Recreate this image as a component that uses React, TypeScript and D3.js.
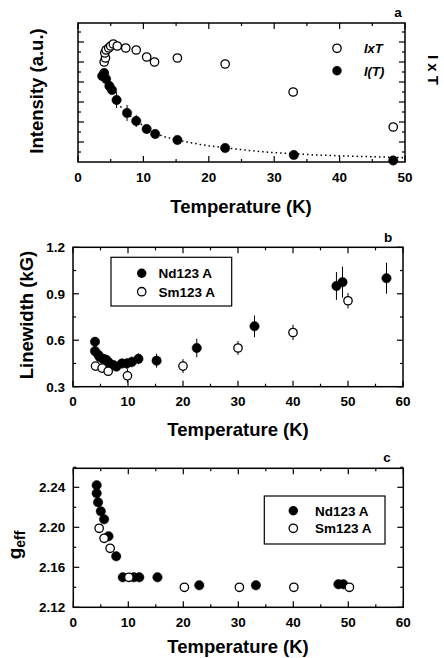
import { useEffect, useRef } from "react";
import * as d3 from "d3";

// ---- panel a: ESR intensity vs temperature ----
const aFilledT = [3.7, 4.0, 4.3, 4.8, 5.2, 5.9, 7.5, 8.9, 10.5, 11.8, 15.2, 22.5, 33.0, 48.2];
const aFilledI = [8.6, 8.9, 8.3, 7.6, 7.2, 6.2, 4.9, 4.1, 3.3, 2.8, 2.2, 1.4, 0.7, 0.15];
const aFilledErr = [0, 0, 0, 0, 0.3, 0.8, 0.8, 0.6, 0.4, 0.4, 0, 0, 0, 0];
const aOpenT = [4.0, 4.2, 4.1, 4.3, 4.7, 5.0, 5.4, 6.0, 7.3, 8.9, 10.5, 11.7, 15.2, 22.5, 32.9, 48.2];
const aOpenI = [10.0, 10.4, 10.9, 11.2, 11.4, 11.6, 11.8, 11.6, 11.4, 11.2, 10.5, 10.0, 10.4, 9.8, 7.0, 3.5];
// dotted guide through I(T)
const aFitT = [6.0, 7.5, 9, 10.5, 12.5, 15, 18.7, 22.5, 27.8, 33, 40, 48, 50];
const aFitI = [5.9, 4.9, 4.1, 3.4, 2.7, 2.25, 1.75, 1.43, 1.05, 0.82, 0.62, 0.47, 0.43];

// ---- panel b: linewidth ----
const bNdT = [4.0, 4.0, 4.6, 4.9, 5.5, 6.0, 6.4, 7.3, 7.9, 8.9, 9.8, 10.7, 11.9, 15.2, 22.5, 33.0, 47.9, 49.0, 57.0];
const bNdW = [0.59, 0.53, 0.505, 0.49, 0.48, 0.475, 0.46, 0.44, 0.43, 0.45, 0.45, 0.46, 0.48, 0.468, 0.55, 0.69, 0.95, 0.975, 1.0];
const bNdErr = [0.03, 0.03, 0.03, 0.03, 0.03, 0.03, 0.03, 0.03, 0.03, 0.03, 0.035, 0.035, 0.035, 0.045, 0.06, 0.07, 0.09, 0.1, 0.1];
const bSmT = [4.1, 5.3, 6.4, 9.9, 20, 30, 40, 50];
const bSmW = [0.433, 0.42, 0.40, 0.37, 0.433, 0.55, 0.65, 0.855];
const bSmErr = [0.02, 0.02, 0.02, 0.045, 0.045, 0.045, 0.05, 0.05];

// ---- panel c: g factor ----
const cNdT = [4.25, 4.25, 4.5, 5.0, 5.6, 6.4, 7.8, 9.0, 11.0, 12.0, 15.3, 22.9, 33.2, 48.2, 49.1];
const cNdG = [2.242, 2.234, 2.225, 2.216, 2.208, 2.191, 2.171, 2.15, 2.15, 2.15, 2.15, 2.142, 2.142, 2.143, 2.143];
const cSmT = [4.7, 5.6, 6.7, 10.1, 20.2, 30.2, 40.1, 50.2];
const cSmG = [2.199, 2.189, 2.179, 2.15, 2.14, 2.14, 2.14, 2.14];

const aXTicks = [0, 10, 20, 30, 40, 50];
const bcXTicks = [0, 10, 20, 30, 40, 50, 60];
const bYTicks = [0.3, 0.6, 0.9, 1.2];
const cYTicks = [2.12, 2.16, 2.20, 2.24];

const FONT = "'Liberation Sans', Arial, Helvetica, sans-serif";

function range(a: number, b: number, step: number) {
  const out: number[] = [];
  for (let v = a; v <= b + 1e-9; v += step) out.push(+v.toFixed(4));
  return out;
}

// box with inward ticks on all four sides, labels on bottom/left
function frame(g: any, x: any, y: any, xMajor: number[], xMinor: number[], yMajor: number[], yMinor: number[], yFmt: ((v: number) => string) | null) {
  const [x0, x1] = x.range();
  const [y0, y1] = y.range();
  const tg = g.append("g").attr("stroke", "#000").attr("stroke-width", 1.2);

  const xticks = (vals: number[], len: number) => {
    vals.forEach((v) => {
      const px = x(v);
      tg.append("line").attr("x1", px).attr("x2", px).attr("y1", y0).attr("y2", y0 - len);
      tg.append("line").attr("x1", px).attr("x2", px).attr("y1", y1).attr("y2", y1 + len);
    });
  };
  const yticks = (vals: number[], len: number) => {
    vals.forEach((v) => {
      const py = y(v);
      tg.append("line").attr("y1", py).attr("y2", py).attr("x1", x0).attr("x2", x0 + len);
      tg.append("line").attr("y1", py).attr("y2", py).attr("x1", x1).attr("x2", x1 - len);
    });
  };
  xticks(xMajor, 6);
  xticks(xMinor, 3);
  yticks(yMajor, 6);
  yticks(yMinor, 3);

  g.append("rect")
    .attr("x", x0).attr("y", y1)
    .attr("width", x1 - x0).attr("height", y0 - y1)
    .attr("fill", "none").attr("stroke", "#000").attr("stroke-width", 1.5);

  g.selectAll(null).data(xMajor).join("text")
    .attr("x", (d: number) => x(d)).attr("y", y0 + 19.5)
    .attr("text-anchor", "middle").attr("font-size", 13.5).attr("font-weight", "bold")
    .text((d: number) => String(d));
  if (yFmt) {
    g.selectAll(null).data(yMajor).join("text")
      .attr("x", x0 - 8).attr("y", (d: number) => y(d) + 5)
      .attr("text-anchor", "end").attr("font-size", 13.5).attr("font-weight", "bold")
      .text((d: number) => yFmt(d));
  }
}

function markers(g: any, x: any, y: any, xs: number[], ys: number[], errs: number[] | null, filled: boolean) {
  const data = xs.map((t, i) => ({ t, v: ys[i], e: errs ? errs[i] : 0 }));
  g.append("g").attr("stroke", "#000").attr("stroke-width", 1)
    .selectAll("line").data(data.filter((d) => d.e > 0)).join("line")
    .attr("x1", (d: any) => x(d.t)).attr("x2", (d: any) => x(d.t))
    .attr("y1", (d: any) => y(d.v - d.e)).attr("y2", (d: any) => y(d.v + d.e));
  g.append("g").selectAll("circle").data(data).join("circle")
    .attr("cx", (d: any) => x(d.t)).attr("cy", (d: any) => y(d.v))
    .attr("r", filled ? 4.7 : 4.2)
    .attr("fill", filled ? "#000" : "#fff")
    .attr("stroke", "#000").attr("stroke-width", filled ? 0.5 : 1.3);
}

function legendBox(g: any, bx: number, by: number, bw: number, bh: number, cx: number, tx: number, r1: number, r2: number) {
  g.append("rect").attr("x", bx).attr("y", by).attr("width", bw).attr("height", bh)
    .attr("fill", "#fff").attr("stroke", "#000").attr("stroke-width", 1.2);
  g.append("circle").attr("cx", cx).attr("cy", r1).attr("r", 4.7).attr("fill", "#000");
  g.append("circle").attr("cx", cx).attr("cy", r2).attr("r", 4.2).attr("fill", "#fff").attr("stroke", "#000").attr("stroke-width", 1.3);
  g.append("text").attr("x", tx).attr("y", r1 + 5).attr("font-size", 13.5).attr("font-weight", "bold").text("Nd123 A");
  g.append("text").attr("x", tx).attr("y", r2 + 5).attr("font-size", 13.5).attr("font-weight", "bold").text("Sm123 A");
}

export default function App() {
  const ref = useRef<SVGSVGElement | null>(null);

  useEffect(() => {
    const svg = d3.select(ref.current);
    svg.selectAll("*").remove();
    const root = svg.append("g").attr("font-family", FONT).attr("fill", "#000");

    // ---------- panel a ----------
    const ax = d3.scaleLinear().domain([0, 50]).range([78, 405]);
    const ay = d3.scaleLinear().domain([0, 13.9]).range([162, 23]);
    const ga = root.append("g");
    frame(ga, ax, ay, aXTicks, range(5, 45, 10), range(2, 12, 2), range(1, 13, 2), null);
    const fit = d3.line<number>().x((d, i) => ax(aFitT[i])).y((d) => ay(d)).curve(d3.curveMonotoneX);
    ga.append("path").attr("d", fit(aFitI)).attr("fill", "none").attr("stroke", "#000")
      .attr("stroke-width", 1.5).attr("stroke-dasharray", "1.5,3");
    markers(ga, ax, ay, aFilledT, aFilledI, aFilledErr, true);
    markers(ga, ax, ay, aOpenT, aOpenI, null, false);
    ga.append("circle").attr("cx", 337).attr("cy", 48.3).attr("r", 4.2).attr("fill", "#fff").attr("stroke", "#000").attr("stroke-width", 1.3);
    ga.append("circle").attr("cx", 337).attr("cy", 70.7).attr("r", 4.7).attr("fill", "#000");
    ga.append("text").attr("x", 364).attr("y", 53).attr("font-size", 13).attr("font-weight", "bold").attr("font-style", "italic").text("IxT");
    ga.append("text").attr("x", 364).attr("y", 75.5).attr("font-size", 13).attr("font-weight", "bold").attr("font-style", "italic").text("I(T)");
    ga.append("text").attr("x", 398).attr("y", 17).attr("text-anchor", "middle").attr("font-size", 13.5).attr("font-weight", "bold").text("a");
    ga.append("text").attr("transform", "translate(428,70) rotate(90)").attr("text-anchor", "middle")
      .attr("font-size", 15).attr("font-weight", "bold").text("I x T");
    ga.append("text").attr("transform", "translate(43,91) rotate(-90)").attr("text-anchor", "middle")
      .attr("font-size", 18.5).attr("font-weight", "bold").text("Intensity (a.u.)");
    ga.append("text").attr("x", 241).attr("y", 212.5).attr("text-anchor", "middle")
      .attr("font-size", 18.5).attr("font-weight", "bold").text("Temperature (K)");

    // ---------- panel b ----------
    const bx = d3.scaleLinear().domain([0, 60]).range([73, 403]);
    const by = d3.scaleLinear().domain([0.3, 1.2]).range([386.7, 247.3]);
    const gb = root.append("g");
    frame(gb, bx, by, bcXTicks, range(5, 55, 10), bYTicks, range(0.45, 1.05, 0.3), (v) => v.toFixed(1));
    markers(gb, bx, by, bNdT, bNdW, bNdErr, true);
    markers(gb, bx, by, bSmT, bSmW, bSmErr, false);
    legendBox(gb, 111, 257.3, 120.7, 48.7, 141.7, 158.5, 273.3, 291.7);
    gb.append("text").attr("x", 388).attr("y", 241.5).attr("text-anchor", "middle").attr("font-size", 13.5).attr("font-weight", "bold").text("b");
    gb.append("text").attr("transform", "translate(33,315) rotate(-90)").attr("text-anchor", "middle")
      .attr("font-size", 18.5).attr("font-weight", "bold").text("Linewidth (kG)");
    gb.append("text").attr("x", 238).attr("y", 435.5).attr("text-anchor", "middle")
      .attr("font-size", 18.5).attr("font-weight", "bold").text("Temperature (K)");

    // ---------- panel c ----------
    const cx = d3.scaleLinear().domain([0, 60]).range([73.3, 403.3]);
    const cy = d3.scaleLinear().domain([2.12, 2.259]).range([607.3, 468.3]);
    const gc = root.append("g");
    frame(gc, cx, cy, bcXTicks, range(5, 55, 10), cYTicks, range(2.14, 2.26, 0.04), (v) => v.toFixed(2));
    markers(gc, cx, cy, cNdT, cNdG, null, true);
    markers(gc, cx, cy, cSmT, cSmG, null, false);
    legendBox(gc, 264.3, 496, 120.7, 48, 293.3, 315, 510.7, 528.3);
    gc.append("text").attr("x", 387).attr("y", 461.5).attr("text-anchor", "middle").attr("font-size", 13.5).attr("font-weight", "bold").text("c");
    const gl = gc.append("text").attr("transform", "translate(21,545) rotate(-90)").attr("text-anchor", "middle")
      .attr("font-weight", "bold");
    gl.append("tspan").attr("font-size", 19).text("g");
    gl.append("tspan").attr("font-size", 14).attr("dy", 4).text("eff");
    gc.append("text").attr("x", 238).attr("y", 652.5).attr("text-anchor", "middle")
      .attr("font-size", 18.5).attr("font-weight", "bold").text("Temperature (K)");

    return () => { svg.selectAll("*").remove(); };
  }, []);

  return (
    <svg ref={ref} width={444} height={658}
      style={{ position: "absolute", left: 0, top: 0, background: "#fff" }} />
  );
}
